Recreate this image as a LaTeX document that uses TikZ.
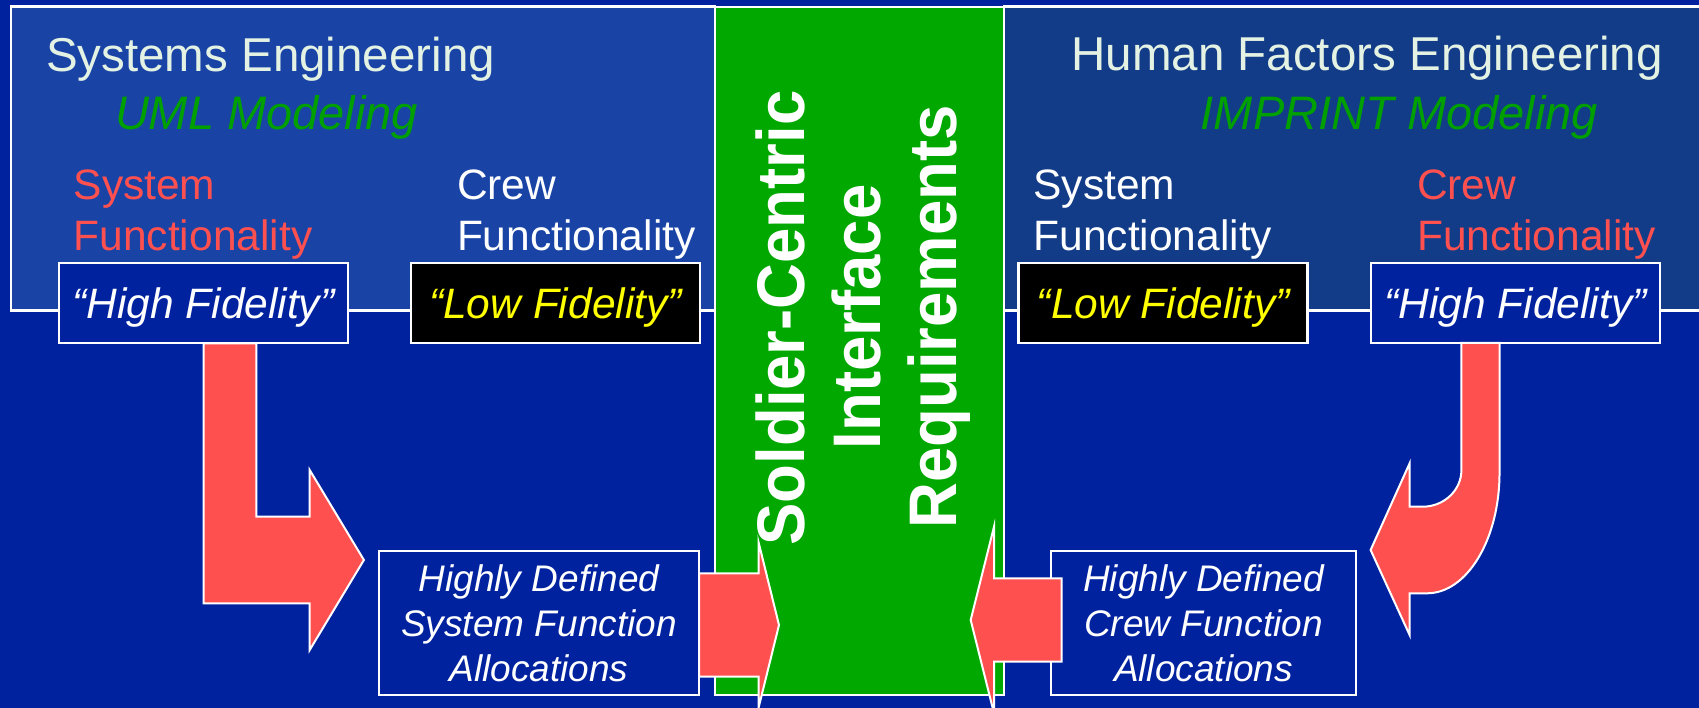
\documentclass[tikz,border=0pt]{standalone}
\usepackage{fontspec}
\setmainfont{Liberation Sans}
\definecolor{bgblue}{HTML}{00229E}
\definecolor{panelL}{HTML}{1944A6}
\definecolor{panelR}{HTML}{123C88}
\definecolor{grnbar}{HTML}{00A800}
\definecolor{txtgrn}{HTML}{00A000}
\definecolor{rd}{HTML}{FF5050}
\definecolor{ylw}{HTML}{FFFF00}
\definecolor{hdrc}{HTML}{E4F2E4}
\newcommand{\fsz}[2]{\fontsize{#1pt}{#2pt}\selectfont}
\begin{document}
\begin{tikzpicture}[x=1pt,y=-1pt,
  txt/.style={inner sep=0pt, anchor=base west, text=white},
  hdr/.style={txt, text=hdrc, font=\fsz{47.5}{57}},
  mdl/.style={txt, text=txtgrn, font=\fsz{47}{57}\itshape},
  lbl/.style={txt, font=\fsz{42.5}{51}},
  fid/.style={draw=white, line width=2.5pt, inner sep=0pt, minimum width=289pt,
    minimum height=80pt, text height=30.4pt, text depth=0pt, font=\fsz{42.5}{51}\itshape},
  alloc/.style={draw=white, line width=2.5pt, fill=bgblue, inner sep=0pt,
    minimum height=144.3pt, align=center, text=white, font=\fsz{37}{45}\itshape},
  arr/.style={fill=rd, draw=white, line width=2pt, line join=miter},
  vert/.style={rotate=90, anchor=base, inner sep=0pt, text=white, font=\fsz{63.5}{76}\bfseries},
  panel/.style={draw=white, line width=2.5pt}]
\useasboundingbox (0,0) rectangle (1699,708);
\clip (0,0) rectangle (1699,708);
\fill[bgblue] (0,0) rectangle (1699,708);
% panels
\draw[panel, fill=panelL] (11,6.7) rectangle (715,310.7);
\draw[panel, fill=panelR] (1004,6.7) rectangle (1712,310.7);
\draw[panel, fill=grnbar] (715,6.8) rectangle (1004,695);
% left texts
\node[hdr] (seT) at (45.9,71.7) {Systems Engineering};
\node[mdl] (umlT) at (114.8,129.3) {UML Modeling};
\node[lbl, text=rd] (sysL1) at (73.5,199.3) {System};
\node[lbl, text=rd] (sysL2) at (73.5,250.7) {Functionality};
\node[lbl] (crwL1) at (456.8,199.3) {Crew};
\node[lbl] (crwL2) at (456.8,250.7) {Functionality};
% right texts
\node[hdr] (hfeT) at (1071.3,70.7) {Human Factors Engineering};
\node[mdl] (impT) at (1200.6,129.3) {IMPRINT Modeling};
\node[lbl] (sysR1) at (1033.4,199.3) {System};
\node[lbl] (sysR2) at (1033.4,250.7) {Functionality};
\node[lbl, text=rd] (crwR1) at (1416.9,199.3) {Crew};
\node[lbl, text=rd] (crwR2) at (1416.9,250.7) {Functionality};
% fidelity boxes
\node[fid, fill=bgblue, text=white] (hfL) at (203.4,303) {“High Fidelity”};
\node[fid, fill=black, text=ylw] (lfL) at (555.5,303) {“Low Fidelity”};
\node[fid, fill=black, text=ylw] (lfR) at (1163.2,303) {“Low Fidelity”};
\node[fid, fill=bgblue, text=white] (hfR) at (1515.6,303) {“High Fidelity”};
% allocation boxes
\node[alloc, minimum width=320pt] (allocL) at (539,622.9) {Highly Defined\\System Function\\Allocations};
\node[alloc, minimum width=305pt] (allocR) at (1203.5,622.9) {Highly Defined\\Crew Function\\Allocations};
% block arrows
\draw[arr] (203.7,343.3) -- (256.3,343.3) -- (256.3,516.7) -- (309.7,516.7) -- (309.7,470)
  -- (363.9,560) -- (309.7,650) -- (309.7,603.3) -- (203.7,603.3) -- cycle;
\draw[arr] (1461.4,343) -- (1461.4,470) .. controls (1461.4,490.3) and (1444,506.7) .. (1422.5,506.7)
  -- (1409.6,506.7) -- (1409.6,463.3) -- (1370.6,550) -- (1409.6,635) -- (1409.6,593.3)
  -- (1427,593.3) .. controls (1467,593.3) and (1499.5,539.3) .. (1499.5,473) -- (1499.5,343) -- cycle;
\draw[arr] (699,573.3) -- (758.5,573.3) -- (758.5,542) -- (779,625) -- (758.5,708)
  -- (758.5,676.7) -- (699,676.7) -- cycle;
\draw[arr] (1061.6,578.3) -- (994,578.3) -- (994,526.7) -- (970.7,620) -- (994,713.3)
  -- (994,661.7) -- (1061.6,661.7) -- cycle;
% vertical title
\node[vert] (v1) at (804,318) {\scalebox{1}[1.06]{Soldier-Centric}};
\node[vert] (v2) at (880,317) {\scalebox{1}[1.06]{Interface}};
\node[vert] (v3) at (956.7,317) {\scalebox{1}[1.06]{Requirements}};
\end{tikzpicture}
\end{document}
